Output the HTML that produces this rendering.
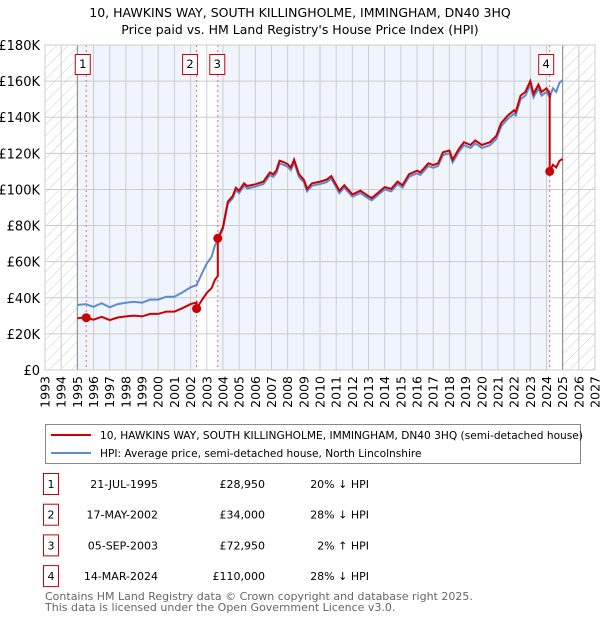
<!DOCTYPE html>
<html><head><meta charset="utf-8"><style>
body{margin:0;background:#fff;font-family:"Liberation Sans","DejaVu Sans",sans-serif;}
svg{display:block}
</style></head><body>
<svg id="c" width="600" height="620" xmlns="http://www.w3.org/2000/svg" font-family="DejaVu Sans, Liberation Sans, sans-serif">
<defs>
<pattern id="hatch" width="8" height="8" patternUnits="userSpaceOnUse" patternTransform="rotate(45)">
<line x1="0" y1="0" x2="0" y2="8" stroke="#ccc" stroke-width="1"/>
</pattern>
</defs>
<text x="300" y="17" text-anchor="middle" font-size="12.5">10, HAWKINS WAY, SOUTH KILLINGHOLME, IMMINGHAM, DN40 3HQ</text>
<text x="300" y="34" text-anchor="middle" font-size="12.5">Price paid vs. HM Land Registry's House Price Index (HPI)</text>
<g id="plot"></g>
<g>
<rect x="45.5" y="424.5" width="535" height="39" fill="#fff" stroke="#888"/>
<line x1="51" y1="435" x2="91" y2="435" stroke="#cc0000" stroke-width="2"/>
<text x="100" y="439" font-size="10.6">10, HAWKINS WAY, SOUTH KILLINGHOLME, IMMINGHAM, DN40 3HQ (semi-detached house)</text>
<line x1="51" y1="453" x2="91" y2="453" stroke="#5b8bd0" stroke-width="2"/>
<text x="100" y="457" font-size="10.6">HPI: Average price, semi-detached house, North Lincolnshire</text>
</g>
<g id="table" font-size="11"></g>
<text x="45" y="600" font-size="11" fill="#666">Contains HM Land Registry data © Crown copyright and database right 2025.</text>
<text x="45" y="611" font-size="11" fill="#666">This data is licensed under the Open Government Licence v3.0.</text>
</svg>
<script>
const hpiDates=[1995.0,1995.5,1996.0,1996.5,1997.0,1997.5,1998.0,1998.5,1999.0,1999.5,2000.0,2000.5,2001.0,2001.5,2002.0,2002.37,2002.7,2003.0,2003.3,2003.5,2003.68,2004.0,2004.3,2004.6,2004.8,2005.0,2005.3,2005.5,2006.0,2006.5,2006.9,2007.1,2007.3,2007.5,2007.8,2008.0,2008.2,2008.4,2008.7,2009.0,2009.2,2009.5,2010.0,2010.4,2010.7,2011.2,2011.5,2012.0,2012.5,2013.0,2013.2,2013.6,2014.0,2014.4,2014.8,2015.1,2015.5,2016.0,2016.2,2016.7,2017.0,2017.3,2017.6,2018.0,2018.2,2018.6,2018.9,2019.3,2019.6,2020.0,2020.5,2020.9,2021.2,2021.6,2022.0,2022.1,2022.4,2022.7,2023.0,2023.2,2023.5,2023.7,2024.0,2024.2,2024.4,2024.6,2024.8,2025.0];
const hpiValues=[36,36.5,35,37,34.7,36.5,37.3,37.8,37.3,39,39,40.6,40.6,43,45.8,47,53.5,59,62.7,69,72,78,92,95,99.6,98,102,100.6,101.5,103,108,107,109,114.4,113.5,112.5,110.7,115,107,104,99,102,103,104,106,98,101,96,98,95,94,97,100,99,103,101,107,109,108,113,112,113,119,120,115,121,124.5,123,125.5,123,124.5,128,135,139,142,141,150,152,158,151,156,152,154,151,156,154,159,160.5];
const saleDates=[1995.55,2002.37,2003.68,2024.2];
const salePrices=[28950,34000,72950,110000];
const saleLabels=["21-JUL-1995","17-MAY-2002","05-SEP-2003","14-MAR-2024"];
const salePriceText=["£28,950","£34,000","£72,950","£110,000"];
const saleDiff=["20% ↓ HPI","28% ↓ HPI","2% ↑ HPI","28% ↓ HPI"];
const yTicks=[0,20,40,60,80,100,120,140,160,180];
const xYears=[];for(let y=1993;y<=2027;y++)xYears.push(y);

const X0=45,X1=595,Y0=370,Y1=45;
const xs=t=>X0+(t-1993)*(X1-X0)/34;
const ys=k=>Y0-k*(Y0-Y1)/180;
const NS="http://www.w3.org/2000/svg";
const plot=document.getElementById('plot');
function el(tag,attrs,parent){const e=document.createElementNS(NS,tag);for(const k in attrs)e.setAttribute(k,attrs[k]);(parent||plot).appendChild(e);return e;}
function hpiAt(t){for(let i=1;i<hpiDates.length;i++){if(t<=hpiDates[i]){const f=(t-hpiDates[i-1])/(hpiDates[i]-hpiDates[i-1]);return hpiValues[i-1]+f*(hpiValues[i]-hpiValues[i-1]);}}return hpiValues[hpiValues.length-1];}

let r=el('rect',{x:X0,y:Y1,width:xs(1995)-X0,height:Y0-Y1,fill:'url(#hatch)'});

r=el('rect',{x:xs(2025),y:Y1,width:X1-xs(2025),height:Y0-Y1,fill:'url(#hatch)'});

const bands=[[1995,saleDates[1]],[saleDates[2],saleDates[3]]];
bands.forEach(b=>{const e=el('rect',{x:xs(b[0]),y:Y1,width:xs(b[1])-xs(b[0]),height:Y0-Y1,fill:'#f0f4fd'});
});
xYears.forEach(y=>{const e=el('line',{x1:xs(y),x2:xs(y),y1:Y1,y2:Y0,stroke:'#ccc','stroke-width':1});

const t=el('text',{x:0,y:0,'font-size':12.5,'text-anchor':'end',transform:`translate(${xs(y)+4.5},${Y0+6}) rotate(-90)`});t.textContent=y;
});
yTicks.forEach(k=>{const e=el('line',{x1:X0,x2:X1,y1:ys(k),y2:ys(k),stroke:'#ccc','stroke-width':1});

const t=el('text',{x:X0-5,y:ys(k)+5,'font-size':13,'text-anchor':'end'});t.textContent=k===0?'£0':'£'+k+'K';
});
[1995,2025].forEach(y=>{const e=el('line',{x1:xs(y),x2:xs(y),y1:Y1,y2:Y0,stroke:'#888','stroke-width':1});
});
saleDates.forEach(d=>{const e=el('line',{x1:xs(d),x2:xs(d),y1:Y1,y2:Y0,stroke:'#e66','stroke-width':1,'stroke-dasharray':'2,3'});
});
let p=hpiDates.map((d,i)=>(i?'L':'M')+xs(d).toFixed(1)+','+ys(hpiValues[i]).toFixed(1)).join('');
let hl=el('path',{d:p,fill:'none',stroke:'#5b8bd0','stroke-width':2});

const pts=[];
const allT=hpiDates.concat(saleDates).sort((a,b)=>a-b);
function ratioIdx(t){let idx=0;for(let i=0;i<saleDates.length;i++)if(t>=saleDates[i])idx=i;return idx;}
allT.forEach(t=>{
  const isSale=saleDates.indexOf(t);
  if(isSale>0){const prev=isSale-1;const v=hpiAt(t)*(salePrices[prev]/1000)/hpiAt(saleDates[prev]);pts.push([t,v]);}
  const i=ratioIdx(t);pts.push([t,hpiAt(t)*(salePrices[i]/1000)/hpiAt(saleDates[i])]);
});
p=pts.map((q,i)=>(i?'L':'M')+xs(q[0]).toFixed(1)+','+ys(q[1]).toFixed(1)).join('');
let rl=el('path',{d:p,fill:'none',stroke:'#cc0000','stroke-width':2});

const labelX=[0,-3,3,0];
saleDates.forEach((d,i)=>{
  const c=el('circle',{cx:xs(d),cy:ys(salePrices[i]/1000),r:4.5,fill:'#cc0000'});
  
  const bx=xs(d)-4+labelX[i]-3;
  const b=el('rect',{x:bx-4,y:54.5,width:15,height:20,fill:'#fff',stroke:'#cc0000'});
  
  const t=el('text',{x:bx+3.5,y:68,'font-size':11.5,'text-anchor':'middle'});t.textContent=i+1;
  
});
const ax=el('rect',{x:X0,y:Y1,width:X1-X0,height:Y0-Y1,fill:'none',stroke:'#ccc'});

const tb=document.getElementById('table');
saleDates.forEach((d,i)=>{
  const cy=484+i*30.7;
  const g=el('g',{},tb);
  el('rect',{x:43.5,y:cy-10.5,width:15,height:21,fill:'#fff',stroke:'#cc0000'},g);
  let t=el('text',{x:51,y:cy+4,'text-anchor':'middle'},g);t.textContent=i+1;
  t=el('text',{x:158,y:cy+4,'text-anchor':'end'},g);t.textContent=saleLabels[i];
  t=el('text',{x:265,y:cy+4,'text-anchor':'end'},g);t.textContent=salePriceText[i];
  t=el('text',{x:369,y:cy+4,'text-anchor':'end'},g);t.textContent=saleDiff[i];
});
</script>
</body></html>
